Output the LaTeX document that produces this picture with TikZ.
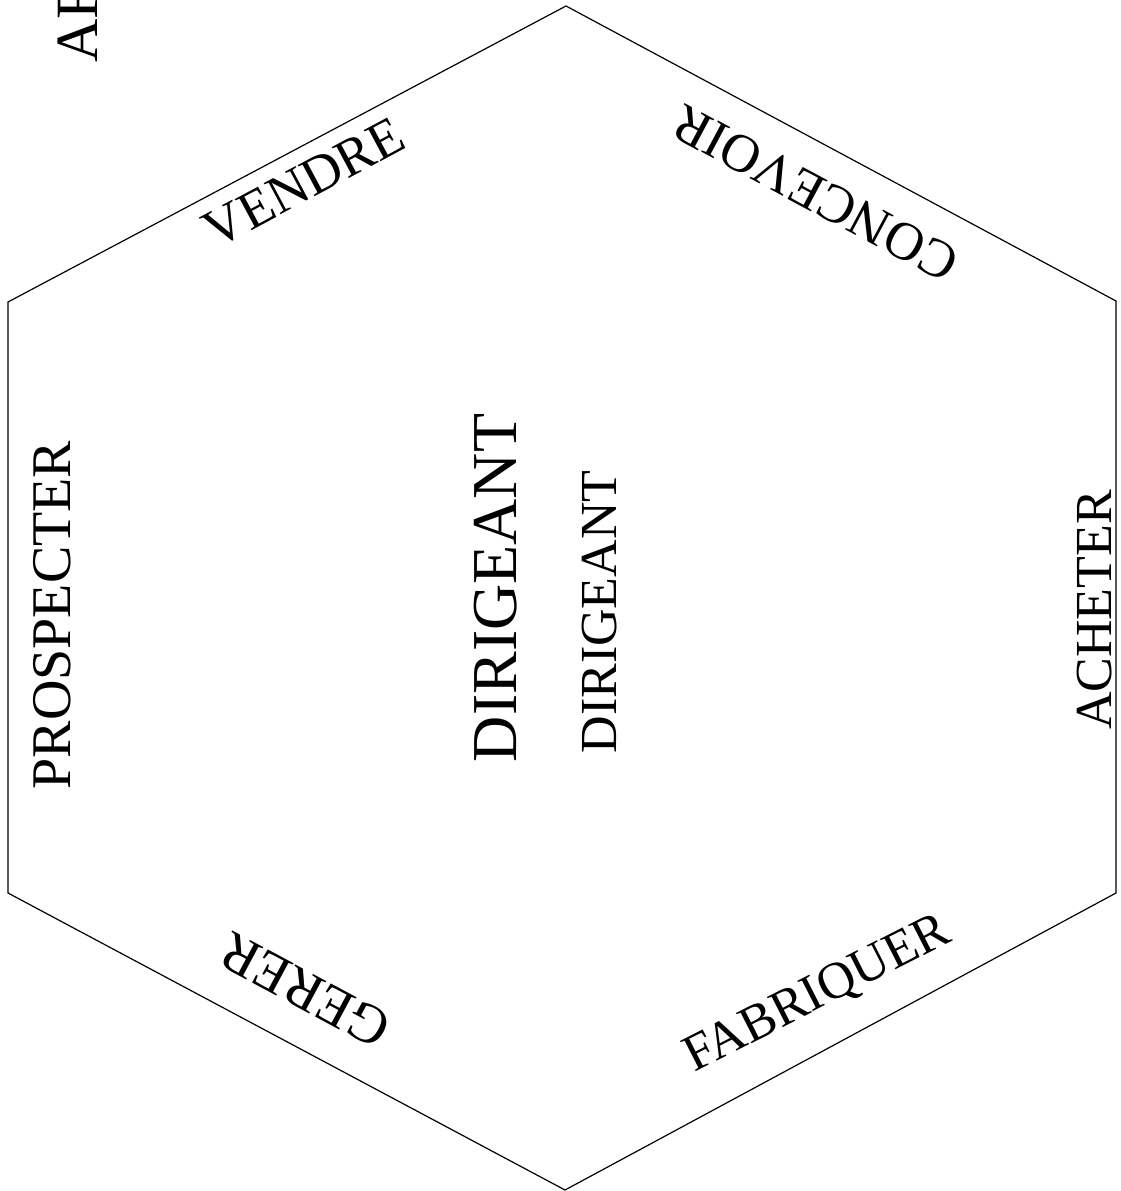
\documentclass[tikz,border=0pt]{standalone}
\usepackage{fontspec}
\setmainfont{Liberation Serif}
\begin{document}
\begin{tikzpicture}[x=1pt,y=-1pt,
  lbl/.style={inner sep=0pt, font=\fontsize{54}{60}\selectfont},
  hexline/.style={line width=1.2pt, line join=miter}]
\useasboundingbox (0,0) rectangle (1121,1191);
\coordinate (t) at (566,6);
\coordinate (ur) at (1116,301);
\coordinate (lr) at (1116,893);
\coordinate (b) at (565,1190);
\coordinate (ll) at (8,893);
\coordinate (ul) at (8,302);
\draw[hexline] (t) -- (ur) -- (lr) -- (b) -- (ll) -- (ul) -- cycle;
\node[lbl, rotate=90, anchor=base west, font=\fontsize{60}{66}\selectfont] (af) at (97,63) {AF};
\node[lbl, rotate=28.2] (vendre) at (304,183) {VENDRE};
\node[lbl, rotate=151.8] (concevoir) at (815,193) {CONCEVOIR};
\node[lbl, rotate=90, font=\fontsize{56}{62}\selectfont] (prospecter) at (52,615) {PROSPECTER};
\node[lbl, rotate=90, font=\fontsize{52}{58}\selectfont] (acheter) at (1095,610) {ACHETER};
\node[lbl, rotate=27, font=\fontsize{52}{58}\selectfont] (fabriquer) at (818,995) {FABRIQUER};
\node[lbl, rotate=151.8, font=\fontsize{56}{62}\selectfont] (gerer) at (305,990) {GERER};
\node[lbl, rotate=90, font=\fontsize{64}{70}\selectfont] (dir1) at (496,588) {DIRIGEANT};
\node[lbl, rotate=90, font=\fontsize{52}{58}\selectfont] (dir2) at (600,612) {DIRIGEANT};
\end{tikzpicture}
\end{document}
